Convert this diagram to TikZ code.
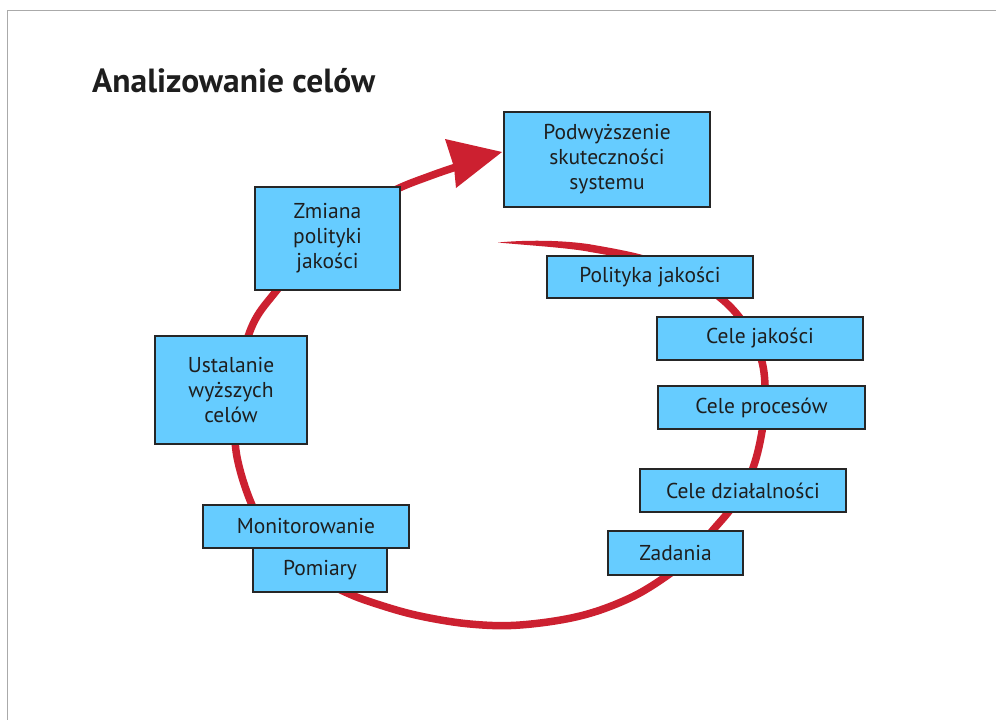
\documentclass[tikz,border=0pt]{standalone}
\usepackage{fontspec}
\setmainfont{PT Sans}
\definecolor{boxblue}{RGB}{102,204,255}
\definecolor{loopred}{RGB}{204,32,48}
\definecolor{framegray}{RGB}{170,170,170}
\definecolor{txt}{RGB}{30,30,30}
\begin{document}
\begin{tikzpicture}[x=1pt,y=-1pt,
  bx/.style={draw=black!85,line width=1.6pt,fill=boxblue,inner sep=0pt,
    text=txt,font=\fontsize{21.5}{25}\selectfont,align=center},
  loop/.style={draw=loopred,line width=7.5pt}]
\useasboundingbox (0,0) rectangle (996,720);
\fill[white] (0,0) rectangle (996,720);
% frame
\coordinate (fc) at (7.5,10.5);
\coordinate (fr) at (996,10.5);
\coordinate (fb) at (7.5,720);
\draw[framegray,line width=1.8pt] (fb) -- (fc) -- (fr);
% title
\node[anchor=base west,inner sep=0pt,font=\fontsize{33.5}{36}\selectfont\bfseries,text=txt] (title) at (92,92) {Analizowanie celów};
% tapered start of loop
\coordinate (tip) at (498,242.5);
\fill[loopred] (tip) .. controls (530,239.5) and (565,240.5) .. (590,244.3)
  -- (589,251.7) .. controls (565,247.5) and (530,245.5) .. (tip) -- cycle;
% main loop
\draw[loop] plot[smooth,tension=0.6] coordinates {
 (589,248) (643,259) (690,278) (723,300) (745,325) (760,355) (765,385)
 (763,425) (753,468) (735,503) (713,530) (690,556) (668,575) (630,598)
 (580,616) (520,625) (470,624) (420,616) (380,605) (345,592) (300,568)
 (270,540) (252,505) (240,470) (235,440) (236,400) (243,355) (255,320)
 (277,290) (310,250) (350,215) (395,190) (430,176) (456,167)};
% arrow head
\coordinate (ah) at (502,152);
\fill[loopred] (ah) -- (445,139) -- (454,167) -- (456,188) -- cycle;
% boxes
\node[bx,minimum width=206,minimum height=95] (pod) at (607,159.5) {Podwyższenie\\skuteczności\\systemu};
\node[bx,minimum width=145,minimum height=103] (zm) at (327.5,238.5) {Zmiana\\polityki\\jakości};
\node[bx,minimum width=152,minimum height=108] (ust) at (231,390) {Ustalanie\\wyższych\\celów};
\node[bx,minimum width=206,minimum height=43] (mon) at (306,526.5) {Monitorowanie};
\node[bx,minimum width=134,minimum height=44] (pom) at (320,570) {Pomiary};
\node[bx,minimum width=206,minimum height=42] (pol) at (650,277) {Polityka jakości};
\node[bx,minimum width=206,minimum height=43] (cj) at (760,338.5) {Cele jakości};
\node[bx,minimum width=207,minimum height=43] (cp) at (761.5,407.5) {Cele procesów};
\node[bx,minimum width=206,minimum height=43] (cd) at (743,490.5) {Cele działalności};
\node[bx,minimum width=135,minimum height=44] (zad) at (675.5,553) {Zadania};
\end{tikzpicture}
\end{document}
